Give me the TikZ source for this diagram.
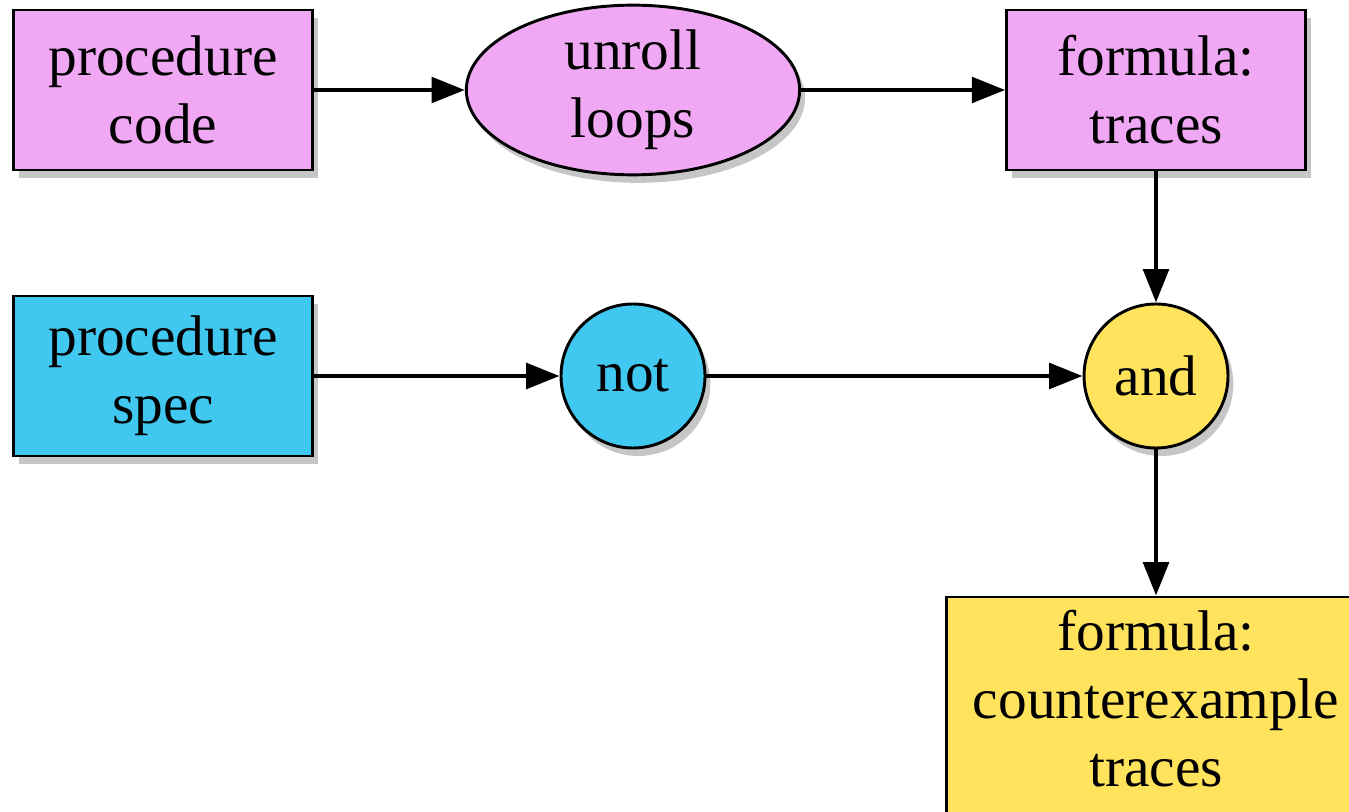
\documentclass[tikz,border=0pt]{standalone}
\usepackage{fontspec}
\setmainfont{Liberation Serif}
\usetikzlibrary{shapes.geometric,arrows.meta,shadows}
\definecolor{pinkfill}{HTML}{F0A8F5}
\definecolor{bluefill}{HTML}{40C8F0}
\definecolor{yellowfill}{HTML}{FFE35C}
\tikzset{
  every node/.style={font=\fontsize{43pt}{51pt}\selectfont, align=center, inner sep=0pt},
  shad/.style={drop shadow={shadow xshift=4pt, shadow yshift=-6pt, opacity=0.45}},
  boxnode/.style={draw=black, line width=2.2pt, rectangle, minimum width=224pt, minimum height=120pt, shad},
  ellnode/.style={draw=black, line width=2.2pt, ellipse, minimum width=250pt, minimum height=120pt, shad},
  circnode/.style={draw=black, line width=2.2pt, circle, minimum size=108pt, shad},
  conn/.style={line width=3.4pt, -{Triangle[length=25pt,width=19pt]}},
}
\begin{document}
\begin{tikzpicture}[x=0.75pt, y=-0.75pt]
\useasboundingbox (0,0) rectangle (1349,812);
\clip (0,0) rectangle (1349,812);
\node[boxnode, fill=pinkfill] (pc) at (163,90) {procedure\\code};
\node[ellnode, fill=pinkfill] (ul) at (633,90) {unroll\\loops};
\node[boxnode, fill=pinkfill] (ft) at (1156,90) {formula:\\traces};
\node[boxnode, fill=bluefill] (ps) at (163,376) {procedure\\spec};
\node[circnode, fill=bluefill] (nt) at (633,376) {not};
\node[circnode, fill=yellowfill] (an) at (1156,376) {and};
\node[boxnode, fill=yellowfill, minimum width=314pt, minimum height=180pt] (fc) at (1156,717) {};
\node (fctext) at (1156,699) {formula:\\counterexample\\traces};
\draw[conn] (pc) -- (ul);
\draw[conn] (ul) -- (ft);
\draw[conn] (ps) -- (nt);
\draw[conn] (nt) -- (an);
\draw[conn] (ft) -- (an);
\draw[conn] (an) -- (fc);
\end{tikzpicture}
\end{document}
